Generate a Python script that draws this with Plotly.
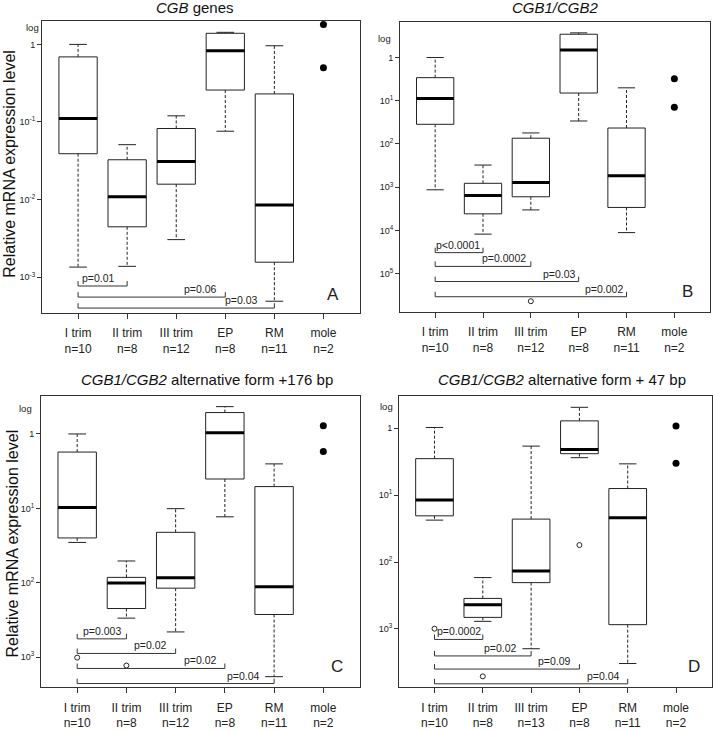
import math
import plotly.graph_objects as go

W, H = 713, 730

groups = ["I trim", "II trim", "III trim", "EP", "RM", "mole"]
n_A = [10, 8, 12, 8, 11, 2]
n_B = [10, 8, 12, 8, 11, 2]
n_C = [10, 8, 12, 8, 11, 2]
n_D = [10, 8, 13, 8, 11, 2]

# box statistics for the first five groups (whisker low, q1, median, q3, whisker high)
A_lo = [0.00135, 0.00138, 0.00305, 0.076, 0.00049]
A_q1 = [0.039, 0.00446, 0.0158, 0.258, 0.00156]
A_med = [0.111, 0.0109, 0.031, 0.83, 0.0085]
A_q3 = [0.69, 0.0326, 0.0824, 1.39, 0.23]
A_hi = [1.0, 0.051, 0.12, 1.43, 0.96]
A_mole = [1.80, 0.50]
A_out_x = []
A_out_y = []

B_lo = [0.00087, 0.000082, 0.000298, 0.034, 0.000089]
B_q1 = [0.0285, 0.000242, 0.0006, 0.151, 0.00034]
B_med = [0.112, 0.00064, 0.00128, 1.49, 0.00185]
B_q3 = [0.342, 0.00123, 0.0136, 3.46, 0.0234]
B_hi = [1.0, 0.00325, 0.018, 3.72, 0.199]
B_mole = [0.324, 0.0707]
B_out_x = [2]
B_out_y = [0.0000023]

C_lo = [0.0348, 0.00334, 0.00218, 0.0769, 0.000546]
C_q1 = [0.040, 0.0045, 0.00845, 0.248, 0.00374]
C_med = [0.103, 0.0099, 0.0117, 1.04, 0.0088]
C_q3 = [0.571, 0.0118, 0.0476, 1.94, 0.196]
C_hi = [1.0, 0.0196, 0.099, 2.33, 0.396]
C_mole = [1.29, 0.582]
C_out_x = [0, 1]
C_out_y = [0.000985, 0.00077]

D_lo = [0.0422, 0.0013, 0.000507, 0.361, 0.000305]
D_q1 = [0.0489, 0.00149, 0.00492, 0.414, 0.00116]
D_med = [0.084, 0.00229, 0.00732, 0.48, 0.0457]
D_q3 = [0.349, 0.00286, 0.0437, 1.28, 0.125]
D_hi = [1.02, 0.00585, 0.537, 2.04, 0.292]
D_mole = [1.07, 0.298]
D_out_x = [0, 1, 3]
D_out_y = [0.00101, 0.000196, 0.0179]

# significance brackets: from group 0 to end group, at a level, with label
A_p_end = [1, 3, 4]
A_p_lvl = [0.00077, 0.000554, 0.0004]
A_p_txt = ["p=0.01", "p=0.06", "p=0.03"]
B_p_end = [1, 2, 3, 4]
B_p_lvl = [3.06e-5, 1.47e-5, 6.57e-6, 2.92e-6]
B_p_txt = ["p<0.0001", "p=0.0002", "p=0.03", "p=0.002"]
C_p_end = [1, 2, 3, 4]
C_p_lvl = [0.00176, 0.00112, 0.000704, 0.000441]
C_p_txt = ["p=0.003", "p=0.02", "p=0.02", "p=0.04"]
D_p_end = [1, 2, 3, 4]
D_p_lvl = [0.000698, 0.000396, 0.000252, 0.000152]
D_p_txt = ["p=0.0002", "p=0.02", "p=0.09", "p=0.04"]

A_tickvals = [1, 0.1, 0.01, 0.001]
A_ticktext = ["1", "10<sup>-1</sup>", "10<sup>-2</sup>", "10<sup>-3</sup>"]
B_tickvals = [1, 0.1, 0.01, 0.001, 0.0001, 0.00001]
B_ticktext = ["1", "10<sup>1</sup>", "10<sup>2</sup>", "10<sup>3</sup>", "10<sup>4</sup>", "10<sup>5</sup>"]
C_tickvals = [1, 0.1, 0.01, 0.001]
C_ticktext = ["1", "10<sup>1</sup>", "10<sup>2</sup>", "10<sup>3</sup>"]
D_tickvals = [1, 0.1, 0.01, 0.001]
D_ticktext = ["1", "10<sup>1</sup>", "10<sup>2</sup>", "10<sup>3</sup>"]

titles = ["<i>CGB</i> genes", "<i>CGB1/CGB2</i>",
          "<i>CGB1/CGB2</i> alternative form +176 bp",
          "<i>CGB1/CGB2</i> alternative form + 47 bp"]
letters = ["A", "B", "C", "D"]

FONT = "Liberation Sans, Arial, sans-serif"
INK = "#222222"

# panel layout in pixels: frame (left, top, right, bottom), log10 y range
panels = [
    dict(frame=(42, 21, 360, 317), yr=(-3.457, 0.305), title=(195, 8), log=(32, 28), letter=(333, 299),
         ylabel=(10, 166), pshift=[-10, -6, -14]),
    dict(frame=(400, 22, 710, 316), yr=(-5.88, 0.829), title=(555, 8), log=(384, 39), letter=(687, 296),
         ylabel=None, pshift=[-1, -3, -1, -2]),
    dict(frame=(41, 401, 360, 697), yr=(-3.408, 0.517), title=(207, 385), log=(25, 414), letter=(337, 676),
         ylabel=(12, 551), pshift=[-3, -7, -6, -12]),
    dict(frame=(399, 402, 712, 697), yr=(-3.873, 0.471), title=(562, 385), log=(387, 412), letter=(694, 676),
         ylabel=None, pshift=[0, -12, -6, -6]),
]

data = [
    (n_A, A_lo, A_q1, A_med, A_q3, A_hi, A_mole, A_out_x, A_out_y, A_p_end, A_p_lvl, A_p_txt, A_tickvals, A_ticktext),
    (n_B, B_lo, B_q1, B_med, B_q3, B_hi, B_mole, B_out_x, B_out_y, B_p_end, B_p_lvl, B_p_txt, B_tickvals, B_ticktext),
    (n_C, C_lo, C_q1, C_med, C_q3, C_hi, C_mole, C_out_x, C_out_y, C_p_end, C_p_lvl, C_p_txt, C_tickvals, C_ticktext),
    (n_D, D_lo, D_q1, D_med, D_q3, D_hi, D_mole, D_out_x, D_out_y, D_p_end, D_p_lvl, D_p_txt, D_tickvals, D_ticktext),
]

BW = 0.39   # box half width
CW = 0.18   # whisker cap half width
XR = [-0.735, 5.745]

fig = go.Figure()
annotations = []
layout = {}

for k, (p, d) in enumerate(zip(panels, data)):
    n, lo, q1, med, q3, hi, mole, ox, oy, pend, plvl, ptxt, tv, tt = d
    sfx = "" if k == 0 else str(k + 1)
    xa, ya = "x" + sfx, "y" + sfx
    l, t, r, b = p["frame"]

    # boxes
    bx, by, mx, my, wx, wy, cx, cy = [], [], [], [], [], [], [], []
    for i in range(len(med)):
        bx += [i - BW, i + BW, i + BW, i - BW, i - BW, None]
        by += [q1[i], q1[i], q3[i], q3[i], q1[i], None]
        mx += [i - BW, i + BW, None]
        my += [med[i], med[i], None]
        wx += [i, i, None, i, i, None]
        wy += [q3[i], hi[i], None, q1[i], lo[i], None]
        cx += [i - CW, i + CW, None, i - CW, i + CW, None]
        cy += [hi[i], hi[i], None, lo[i], lo[i], None]
    fig.add_trace(go.Scatter(x=wx, y=wy, mode="lines", xaxis=xa, yaxis=ya,
                             line=dict(color=INK, width=1, dash="3px,2px")))
    fig.add_trace(go.Scatter(x=cx, y=cy, mode="lines", xaxis=xa, yaxis=ya,
                             line=dict(color=INK, width=1)))
    fig.add_trace(go.Scatter(x=bx, y=by, mode="lines", xaxis=xa, yaxis=ya,
                             line=dict(color=INK, width=1)))
    fig.add_trace(go.Scatter(x=mx, y=my, mode="lines", xaxis=xa, yaxis=ya,
                             line=dict(color="#000000", width=3)))

    # mole points and outliers
    fig.add_trace(go.Scatter(x=[5] * len(mole), y=mole, mode="markers", xaxis=xa, yaxis=ya,
                             marker=dict(color="#000000", size=7)))
    if ox:
        fig.add_trace(go.Scatter(x=ox, y=oy, mode="markers", xaxis=xa, yaxis=ya,
                                 marker=dict(color="white", size=5, line=dict(color=INK, width=1))))

    # brackets
    decades_per_px = (p["yr"][1] - p["yr"][0]) / (b - t)
    fac = 10 ** (5 * decades_per_px)
    kx, ky = [], []
    for j, lv in zip(pend, plvl):
        kx += [0, 0, j, j, None]
        ky += [lv * fac, lv, lv, lv * fac, None]
    fig.add_trace(go.Scatter(x=kx, y=ky, mode="lines", xaxis=xa, yaxis=ya,
                             line=dict(color="#333333", width=1)))
    for j, lv, txt, sh in zip(pend, plvl, ptxt, p["pshift"]):
        annotations.append(dict(x=j, y=math.log10(lv), xref=xa, yref=ya, text=txt,
                                showarrow=False, xanchor="right", yanchor="bottom",
                                xshift=sh, yshift=0, font=dict(size=10.5, color=INK, family=FONT)))

    ticktext = [g + "<br>n=" + str(c) for g, c in zip(groups, n)]
    layout["xaxis" + sfx] = dict(domain=[l / W, r / W], anchor=ya, range=XR,
                                 tickvals=list(range(len(groups))), ticktext=ticktext,
                                 ticks="outside", ticklen=5, tickcolor="#333", ticklabelstandoff=4,
                                 showline=True, mirror=True, linecolor="#333", linewidth=1,
                                 showgrid=False, zeroline=False,
                                 tickfont=dict(size=12, color=INK, family=FONT))
    layout["yaxis" + sfx] = dict(domain=[1 - b / H, 1 - t / H], anchor=xa, type="log",
                                 range=list(p["yr"]), tickvals=tv, ticktext=tt,
                                 ticks="outside", ticklen=4, tickcolor="#333",
                                 showline=True, mirror=True, linecolor="#333", linewidth=1,
                                 showgrid=False, zeroline=False,
                                 tickfont=dict(size=9, color=INK, family=FONT))

    annotations.append(dict(x=p["title"][0] / W, y=1 - p["title"][1] / H, xref="paper", yref="paper",
                            text=titles[k], showarrow=False, xanchor="center", yanchor="middle",
                            font=dict(size=15, color="#111", family=FONT)))
    annotations.append(dict(x=p["log"][0] / W, y=1 - p["log"][1] / H, xref="paper", yref="paper",
                            text="log", showarrow=False, xanchor="center", yanchor="middle",
                            font=dict(size=9.5, color=INK, family=FONT)))
    annotations.append(dict(x=p["letter"][0] / W, y=1 - p["letter"][1] / H, xref="paper", yref="paper",
                            text=letters[k], showarrow=False, xanchor="center", yanchor="middle",
                            font=dict(size=17, color=INK, family=FONT)))
    if p["ylabel"]:
        annotations.append(dict(x=p["ylabel"][0] / W, y=1 - p["ylabel"][1] / H, xref="paper", yref="paper",
                                text="Relative mRNA expression level", showarrow=False, textangle=-90,
                                xanchor="center", yanchor="middle",
                                font=dict(size=16, color="#111", family=FONT)))

fig.update_layout(width=W, height=H, margin=dict(l=0, r=0, t=0, b=0),
                  paper_bgcolor="white", plot_bgcolor="white", showlegend=False,
                  hovermode=False, annotations=annotations, **layout)

# the page body has a default 8px margin; remove it so the figure fills the window
fig.write_html("out.html", config={"displayModeBar": False},
               post_script="document.body.style.margin='0';")
